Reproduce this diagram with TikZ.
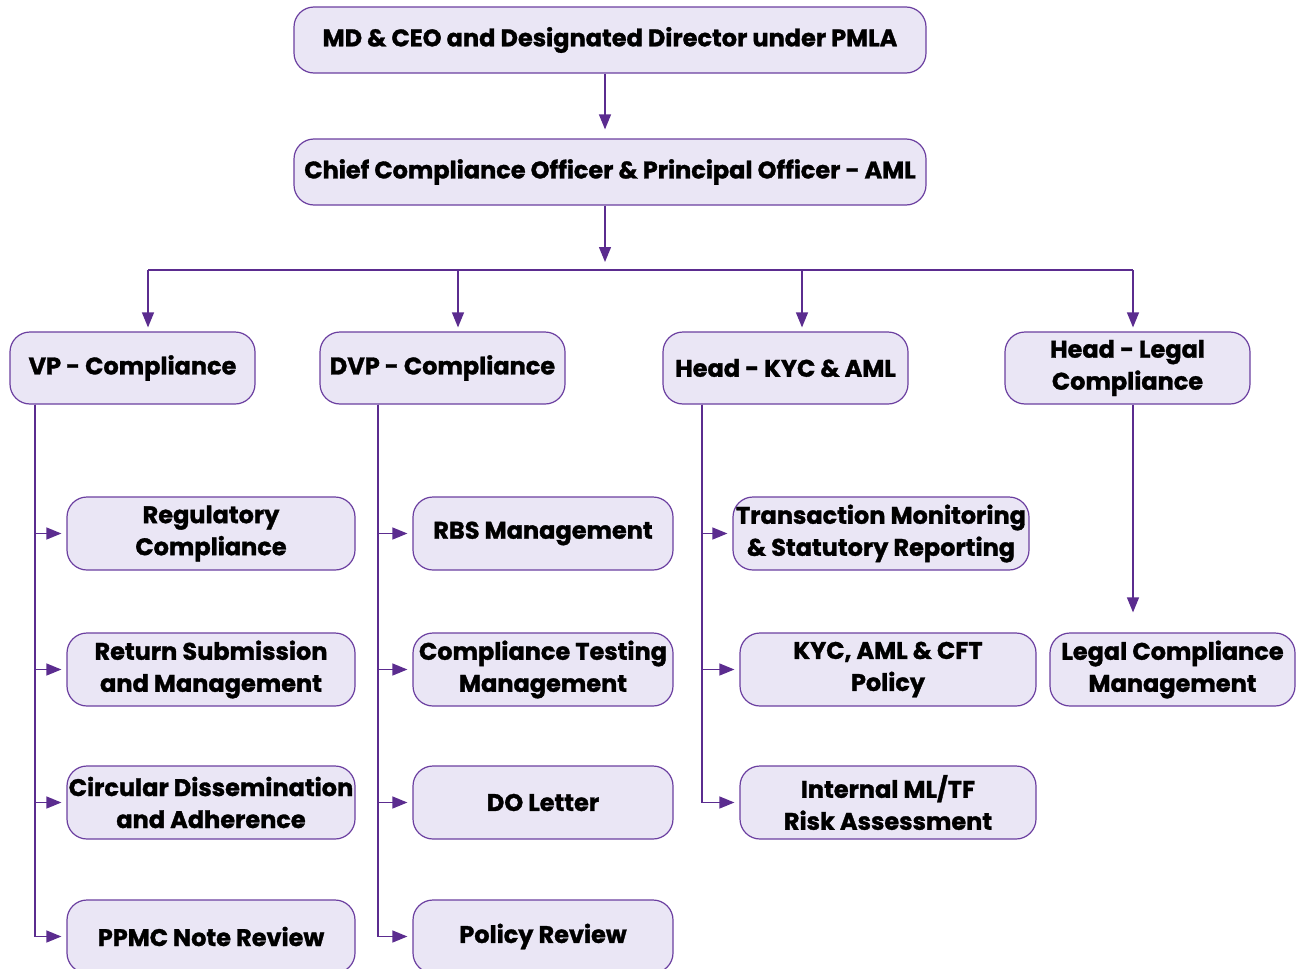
\documentclass[tikz,border=0pt]{standalone}
\usepackage{fontspec}
\setmainfont{Poppins}[BoldFeatures={FakeBold=1.3}]
\usetikzlibrary{arrows.meta}
\definecolor{lc}{HTML}{5B2C8F}
\definecolor{bc}{HTML}{6B3FA0}
\definecolor{fc}{HTML}{EAE6F5}
\tikzset{
  box/.style={draw=bc, line width=1.2pt, fill=fc, rounded corners=20pt, align=center,
    font=\fontsize{24}{32}\selectfont\bfseries, inner sep=0pt, text=black},
  conn/.style={draw=lc, line width=1.3pt, -{Triangle[length=15pt,width=12pt]}},
  plain/.style={draw=lc, line width=1.3pt}
}
\begin{document}
\begin{tikzpicture}[x=1pt,y=-1pt]
\useasboundingbox (0,0) rectangle (1299,969);
\clip (0,0) rectangle (1299,969);
\node[box, minimum width=632pt, minimum height=66pt] (md) at (610,40) {MD \& CEO and Designated Director under PMLA};
\node[box, minimum width=632pt, minimum height=66pt] (cco) at (610,172) {Chief Compliance Officer \& Principal Officer - AML};
\node[box, minimum width=245pt, minimum height=72pt] (vp) at (132.5,368) {VP - Compliance};
\node[box, minimum width=245pt, minimum height=72pt] (dvp) at (442.5,368) {DVP - Compliance};
\node[box, minimum width=245pt, minimum height=72pt] (kyh) at (785.5,368) {Head - KYC \& AML};
\node[box, minimum width=245pt, minimum height=72pt] (hl) at (1127.5,368) {Head - Legal\\Compliance};
\node[box, minimum width=288pt, minimum height=73pt] (reg) at (211,533.5) {Regulatory\\Compliance};
\node[box, minimum width=288pt, minimum height=73pt] (ret) at (211,669.5) {Return Submission\\and Management};
\node[box, minimum width=288pt, minimum height=73pt] (circ) at (211,802.5) {Circular Dissemination\\and Adherence};
\node[box, minimum width=288pt, minimum height=73pt] (ppmc) at (211,936.5) {PPMC Note Review};
\node[box, minimum width=260pt, minimum height=73pt] (rbs) at (543,533.5) {RBS Management};
\node[box, minimum width=260pt, minimum height=73pt] (ctm) at (543,669.5) {Compliance Testing\\Management};
\node[box, minimum width=260pt, minimum height=73pt] (dol) at (543,802.5) {DO Letter};
\node[box, minimum width=260pt, minimum height=73pt] (pol) at (543,936.5) {Policy Review};
\node[box, minimum width=296pt, minimum height=73pt] (tm) at (881,533.5) {Transaction Monitoring\\\& Statutory Reporting};
\node[box, minimum width=296pt, minimum height=73pt] (kcp) at (888,669.5) {KYC, AML \& CFT\\Policy};
\node[box, minimum width=296pt, minimum height=73pt] (iml) at (888,802.5) {Internal ML/TF\\Risk Assessment};
\node[box, minimum width=245pt, minimum height=73pt] (lcm) at (1172.5,669.5) {Legal Compliance\\Management};
% coordinates
\coordinate (ax) at (605,0);
\coordinate (bus) at (605,270);
\coordinate (b1) at (148,270);
\coordinate (b2) at (458,270);
\coordinate (b3) at (802,270);
\coordinate (b4) at (1133,270);
\coordinate (t1) at (35,0);
\coordinate (t2) at (378,0);
\coordinate (t3) at (702,0);
% top connectors
\draw[conn, shorten >=9pt] (md.south -| ax) -- (cco.north -| ax);
\draw[conn, shorten >=8pt] (cco.south -| ax) -- (bus);
\draw[plain] (b1) -- (b4);
\draw[conn, shorten >=4pt] (b1) -- (vp.north -| b1);
\draw[conn, shorten >=4pt] (b2) -- (dvp.north -| b2);
\draw[conn, shorten >=4pt] (b3) -- (kyh.north -| b3);
\draw[conn, shorten >=4pt] (b4) -- (hl.north -| b4);
% VP branch
\draw[conn, shorten >=5pt] (vp.south -| t1) |- (reg.west);
\draw[conn, shorten >=5pt] (vp.south -| t1) |- (ret.west);
\draw[conn, shorten >=5pt] (vp.south -| t1) |- (circ.west);
\draw[conn, shorten >=5pt] (vp.south -| t1) |- (ppmc.west);
% DVP branch
\draw[conn, shorten >=5pt] (dvp.south -| t2) |- (rbs.west);
\draw[conn, shorten >=5pt] (dvp.south -| t2) |- (ctm.west);
\draw[conn, shorten >=5pt] (dvp.south -| t2) |- (dol.west);
\draw[conn, shorten >=5pt] (dvp.south -| t2) |- (pol.west);
% KYC branch
\draw[conn, shorten >=5pt] (kyh.south -| t3) |- (tm.west);
\draw[conn, shorten >=5pt] (kyh.south -| t3) |- (kcp.west);
\draw[conn, shorten >=5pt] (kyh.south -| t3) |- (iml.west);
% Legal
\draw[conn, shorten >=20pt] (hl.south -| b4) -- (lcm.north -| b4);
\end{tikzpicture}
\end{document}
